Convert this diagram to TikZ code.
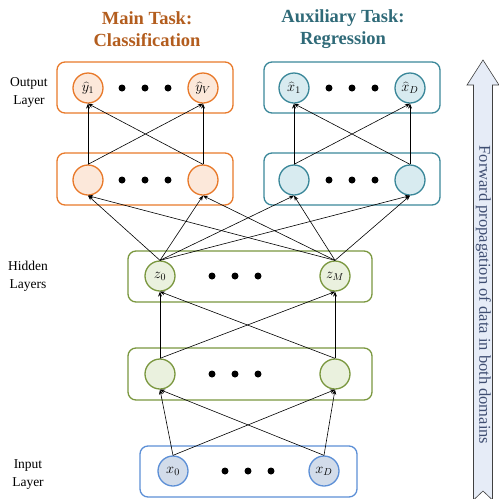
\documentclass[tikz,border=0pt]{standalone}
\usepackage{fontspec}
\setmainfont{Liberation Serif}
\usetikzlibrary{arrows.meta}

\definecolor{orgline}{HTML}{E8792A}
\definecolor{orgfill}{HTML}{FCE8DA}
\definecolor{orgtitle}{HTML}{B35D1E}
\definecolor{tealline}{HTML}{3A8799}
\definecolor{tealfill}{HTML}{D8EBF0}
\definecolor{tealtitle}{HTML}{2F6A78}
\definecolor{grnline}{HTML}{7A973F}
\definecolor{grnfill}{HTML}{EAF1DE}
\definecolor{blueline}{HTML}{5C8FD6}
\definecolor{bluefill}{HTML}{D2DCEA}
\definecolor{arrowfill}{HTML}{E6ECF7}
\definecolor{arrowtext}{HTML}{3F4E72}

\tikzset{
  layerbox/.style={draw, line width=1.3pt, rounded corners=8pt},
  unit/.style={circle, draw, line width=1.3pt, minimum size=30pt, inner sep=0pt,
    font=\fontsize{14}{14}\selectfont},
  orgunit/.style={unit, draw=orgline, fill=orgfill},
  tealunit/.style={unit, draw=tealline, fill=tealfill},
  grnunit/.style={unit, draw=grnline, fill=grnfill},
  blueunit/.style={unit, draw=blueline, fill=bluefill},
  ellip/.style={circle, fill=black, minimum size=7pt, inner sep=0pt},
  link/.style={-{Stealth[length=5pt,width=4pt]}, line width=0.6pt},
  sidelabel/.style={align=center, font=\fontsize{13.5}{18}\selectfont},
  tasktitle/.style={align=center, font=\fontsize{18.5}{22}\selectfont\bfseries},
}

\newcommand{\threedots}[2]{%
  \node[ellip] at (#1-23,#2) {};
  \node[ellip] at (#1,#2) {};
  \node[ellip] at (#1+23,#2) {};}

\begin{document}
\begin{tikzpicture}[x=1pt,y=-1pt]
\useasboundingbox (0,0) rectangle (499,499);

% task titles
\node[tasktitle, text=orgtitle] (t1) at (147,29) {Main Task:\\Classification};
\node[tasktitle, text=tealtitle] (t2) at (343,29) {Auxiliary Task:\\Regression};

% side labels
\node[sidelabel] (lo) at (29,92) {Output\\Layer};
\node[sidelabel] (lh) at (28,276) {Hidden\\Layers};
\node[sidelabel] (li) at (28,475) {Input\\Layer};

% layer frames
\draw[layerbox, draw=orgline] (57,62) rectangle (233,113);
\draw[layerbox, draw=orgline] (57,153) rectangle (233,205);
\draw[layerbox, draw=tealline] (264,62) rectangle (440,113);
\draw[layerbox, draw=tealline] (264,153) rectangle (440,205);
\draw[layerbox, draw=grnline] (128,251) rectangle (372,302);
\draw[layerbox, draw=grnline] (128,348) rectangle (372,400);
\draw[layerbox, draw=blueline] (140,446) rectangle (357,497);

% units
\node[orgunit] (y1) at (88,88) {$\widehat{y}_1$};
\node[orgunit] (yV) at (203,88) {$\widehat{y}_V$};
\threedots{145}{88}
\node[orgunit] (c1) at (88,180) {};
\node[orgunit] (c2) at (203,180) {};
\threedots{145}{180}

\node[tealunit] (x1h) at (294,88) {$\widehat{x}_1$};
\node[tealunit] (xDh) at (410,88) {$\widehat{x}_D$};
\threedots{352}{88}
\node[tealunit] (r1) at (294,180) {};
\node[tealunit] (r2) at (410,180) {};
\threedots{352}{180}

\node[grnunit] (z0) at (160,276) {$z_0$};
\node[grnunit] (zM) at (335,276) {$z_M$};
\threedots{235}{276}
\node[grnunit] (h1) at (160,374) {};
\node[grnunit] (h2) at (335,374) {};
\threedots{235}{374}

\node[blueunit] (x0) at (173,471) {$x_0$};
\node[blueunit] (xD) at (324,471) {$x_D$};
\threedots{248}{471}

% connections
\foreach \s in {x0,xD} \foreach \t in {h1,h2} \draw[link] (\s.north) -- (\t.south);
\foreach \s in {h1,h2} \foreach \t in {z0,zM} \draw[link] (\s.north) -- (\t.south);
\foreach \s in {z0,zM} \foreach \t in {c1,c2,r1,r2} \draw[link] (\s.north) -- (\t.south);
\foreach \s in {c1,c2} \foreach \t in {y1,yV} \draw[link] (\s.north) -- (\t.south);
\foreach \s in {r1,r2} \foreach \t in {x1h,xDh} \draw[link] (\s.north) -- (\t.south);

% direction arrow
\draw[fill=arrowfill, draw=black!75, line width=0.6pt]
  (483,60) -- (499,85) -- (492.5,85) -- (492.5,500) -- (483,491) -- (473.5,500)
  -- (473.5,85) -- (467,85) -- cycle;
\node[rotate=-90, text=arrowtext, font=\fontsize{16.5}{16.5}\selectfont] (fw) at (483.5,295)
  {Forward propagation of data in both domains};
\end{tikzpicture}
\end{document}
